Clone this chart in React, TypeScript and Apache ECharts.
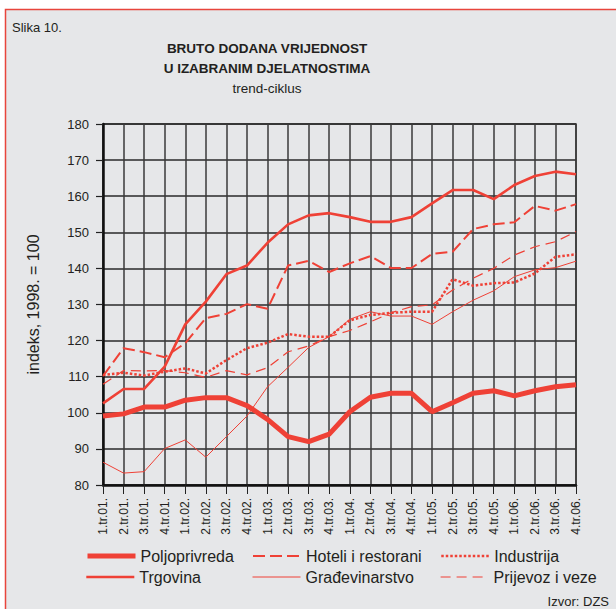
import React, { useEffect, useRef } from "react";
import * as echarts from "echarts";

const categories = [
  "1.tr.01.", "2.tr.01.", "3.tr.01.", "4.tr.01.",
  "1.tr.02.", "2.tr.02.", "3.tr.02.", "4.tr.02.",
  "1.tr.03.", "2.tr.03.", "3.tr.03.", "4.tr.03.",
  "1.tr.04.", "2.tr.04.", "3.tr.04.", "4.tr.04.",
  "1.tr.05.", "2.tr.05.", "3.tr.05.", "4.tr.05.",
  "1.tr.06.", "2.tr.06.", "3.tr.06.", "4.tr.06.",
];

const poljoprivreda = [99.1, 99.7, 101.6, 101.6, 103.5, 104.2, 104.2, 102, 98.2, 93.4, 92, 94.1, 100.3, 104.3, 105.4, 105.4, 100.3, 102.8, 105.4, 106.1, 104.7, 106.1, 107.2, 107.8];
const trgovina = [102.6, 106.6, 106.6, 112.8, 124.5, 130.8, 138.4, 140.8, 147.1, 152.2, 154.7, 155.3, 154.2, 152.9, 152.9, 154.2, 158, 161.7, 161.7, 159.2, 163.1, 165.6, 166.8, 166.1];
const hoteli = [110.2, 117.9, 116.8, 115.4, 119.3, 126.2, 127.4, 130.1, 128.8, 140.8, 142.1, 139, 141.4, 143.4, 140.1, 140.1, 144, 144.6, 150.9, 152.2, 152.8, 157.3, 156, 157.8];
const gradjevinarstvo = [86.3, 83.3, 83.7, 90.1, 92.5, 87.7, 93.4, 99.1, 107.2, 112.6, 118.1, 121.1, 125.9, 128, 126.8, 126.8, 124.5, 128, 131.2, 133.8, 137.7, 139.6, 140.2, 142];
const industrija = [110.5, 111.1, 110.3, 111.4, 112.3, 110.9, 114.6, 117.9, 119.4, 121.8, 121.1, 121.1, 125.6, 127.1, 127.7, 128, 128, 137, 135.2, 135.9, 136.1, 138.6, 143.2, 143.9];
const prijevoz = [107.9, 111.7, 111.6, 111.7, 111.1, 109.8, 111.7, 110.5, 112.5, 116.9, 118.5, 121.1, 122.8, 125.2, 127.7, 129.4, 129.9, 134, 137.3, 140, 143.7, 146, 147.4, 150.2];

const yTicks = { min: 80, max: 180, interval: 10 };

const RED = "#ef4136";
const TXT = "#231f20";
const FONT = "'Liberation Sans', Arial, Helvetica, sans-serif";

export default function App() {
  const ref = useRef<HTMLDivElement>(null);

  useEffect(() => {
    if (!ref.current) return;
    const chart = echarts.init(ref.current, null, { renderer: "svg" });

    const styles: Record<string, { width: number; type: any }> = {
      "Poljoprivreda": { width: 5, type: "solid" },
      "Trgovina": { width: 2.6, type: "solid" },
      "Hoteli i restorani": { width: 2, type: [12, 5] },
      "Građevinarstvo": { width: 1, type: "solid" },
      "Industrija": { width: 2.5, type: [2.5, 2] },
      "Prijevoz i veze": { width: 1.2, type: [10, 6] },
    };

    const mk = (name: string, data: number[]) => ({
      name,
      type: "line",
      data,
      symbol: "none",
      showSymbol: false,
      lineStyle: { color: RED, width: styles[name].width, type: styles[name].type },
      itemStyle: { color: RED },
      z: 5,
    });

    const legendPos: [string, number, number][] = [
      ["Poljoprivreda", 85, 548],
      ["Trgovina", 85, 569],
      ["Hoteli i restorani", 252, 548],
      ["Građevinarstvo", 252, 569],
      ["Industrija", 440, 548],
      ["Prijevoz i veze", 440, 569],
    ];

    chart.setOption({
      animation: false,
      textStyle: { fontFamily: FONT },
      graphic: [
        {
          type: "rect",
          shape: { x: 5.5, y: 9.5, width: 700, height: 700 },
          style: { fill: "#e6e7e9", stroke: "#e8453c", lineWidth: 1.5 },
          z: -10,
          silent: true,
        },
        {
          type: "text",
          x: 12,
          y: 27,
          style: { text: "Slika 10.", fill: TXT, font: `13px ${FONT}`, verticalAlign: "middle" },
        },
        {
          type: "text",
          x: 267,
          y: 48,
          style: { text: "BRUTO DODANA VRIJEDNOST", fill: TXT, font: `bold 13.5px ${FONT}`, align: "center", verticalAlign: "middle" },
        },
        {
          type: "text",
          x: 267,
          y: 68,
          style: { text: "U IZABRANIM DJELATNOSTIMA", fill: TXT, font: `bold 13.5px ${FONT}`, align: "center", verticalAlign: "middle" },
        },
        {
          type: "text",
          x: 267,
          y: 88,
          style: { text: "trend-ciklus", fill: TXT, font: `13.5px ${FONT}`, align: "center", verticalAlign: "middle" },
        },
        {
          type: "text",
          x: 609,
          y: 601,
          style: { text: "Izvor: DZS", fill: TXT, font: `13px ${FONT}`, align: "right", verticalAlign: "middle" },
        },
      ],
      grid: {
        left: 103,
        top: 124,
        width: 473,
        height: 361,
        show: true,
        borderColor: "#333",
        borderWidth: 1.5,
        backgroundColor: "transparent",
      },
      legend: legendPos.map(([n, l, t]) => ({
        data: [n],
        left: l,
        top: t,
        itemWidth: 48,
        itemHeight: 14,
        itemGap: 0,
        padding: 0,
        itemStyle: { opacity: 0 },
        lineStyle: { width: styles[n].width, type: styles[n].type, color: RED },
        textStyle: { fontSize: 16, color: TXT, fontFamily: FONT },
        selectedMode: false,
      })),
      xAxis: {
        type: "category",
        data: categories,
        boundaryGap: false,
        axisLine: { lineStyle: { color: "#111", width: 2.5 } },
        axisTick: { show: true, length: 9, lineStyle: { color: "#222", width: 1 }, interval: 0 },
        axisLabel: { rotate: 90, interval: 0, fontSize: 12, color: TXT, margin: 13, fontFamily: FONT },
        splitLine: { show: true, interval: 0, lineStyle: { color: "#3a3a3a", width: 1.5 } },
      },
      yAxis: {
        type: "value",
        min: yTicks.min,
        max: yTicks.max,
        interval: yTicks.interval,
        name: "indeks, 1998. = 100",
        nameLocation: "middle",
        nameGap: 62,
        nameRotate: 90,
        nameTextStyle: { fontSize: 16, color: TXT, fontFamily: FONT },
        axisLine: { show: true, lineStyle: { color: "#111", width: 2.5 } },
        axisTick: { show: true, length: 7, lineStyle: { color: "#222", width: 1.2 } },
        axisLabel: { fontSize: 13, color: TXT, margin: 14, fontFamily: FONT },
        splitLine: { show: true, lineStyle: { color: "#2a2a2a", width: 1.5 } },
      },
      series: [
        mk("Poljoprivreda", poljoprivreda),
        mk("Trgovina", trgovina),
        mk("Hoteli i restorani", hoteli),
        mk("Građevinarstvo", gradjevinarstvo),
        mk("Industrija", industrija),
        mk("Prijevoz i veze", prijevoz),
      ],
    });

    return () => chart.dispose();
  }, []);

  return (
    <div
      ref={ref}
      style={{ position: "absolute", left: 0, top: 0, width: 616, height: 609 }}
    />
  );
}
